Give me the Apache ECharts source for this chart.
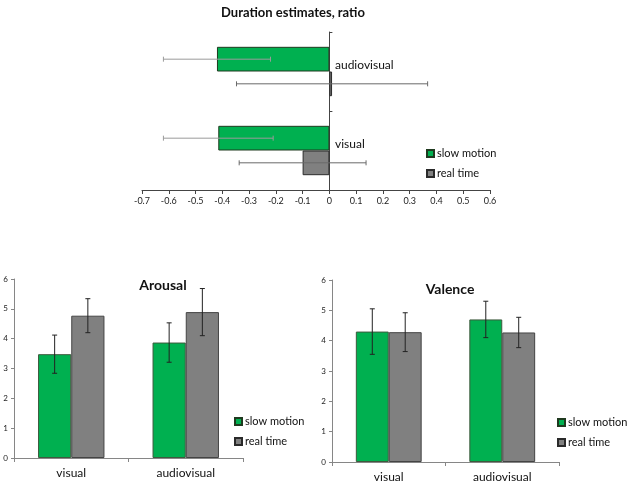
<!DOCTYPE html>
<html><head><meta charset="utf-8">
<script src="https://cdn.jsdelivr.net/npm/echarts@6/dist/echarts.min.js"></script>
<style>html,body{margin:0;padding:0;background:#fff}#c{width:630px;height:483px}</style>
</head><body><div id="c"></div>
<script>
const durCats = ['visual', 'audiovisual'];
const durSlow = [-0.415, -0.42];
const durSlowErr = [0.205, 0.2];
const durReal = [-0.1, 0.01];
const durRealErr = [0.237, 0.357];
const durTicks = [-0.7, 0.6, 0.1];

const emoCats = ['visual', 'audiovisual'];
const arousalSlow = [3.48, 3.87];
const arousalSlowErr = [0.64, 0.66];
const arousalReal = [4.77, 4.89];
const arousalRealErr = [0.57, 0.79];
const valenceSlow = [4.3, 4.7];
const valenceSlowErr = [0.75, 0.6];
const valenceReal = [4.28, 4.27];
const valenceRealErr = [0.64, 0.5];

const GREEN = '#00B050', GRAY = '#808080';
const FONT = 'Lato';

function vErr(frac, color) {
  return function (params, api) {
    const cat = api.value(0), v = api.value(1), e = api.value(2);
    const bw = api.size([1, 0])[0];
    const top = api.coord([cat, v + e]);
    const bot = api.coord([cat, v - e]);
    const x = top[0] + frac * bw;
    const st = { stroke: color, lineWidth: 1 };
    return { type: 'group', children: [
      { type: 'line', shape: { x1: x, y1: top[1], x2: x, y2: bot[1] }, style: st },
      { type: 'line', shape: { x1: x - 2.5, y1: top[1], x2: x + 2.5, y2: top[1] }, style: st },
      { type: 'line', shape: { x1: x - 2.5, y1: bot[1], x2: x + 2.5, y2: bot[1] }, style: st }
    ]};
  };
}
function hErr(frac, color) {
  return function (params, api) {
    const v = api.value(0), cat = api.value(1), e = api.value(2);
    const bh = api.size([0, 1])[1];
    const l = api.coord([v - e, cat]);
    const r = api.coord([v + e, cat]);
    const y = l[1] + frac * bh;
    const st = { stroke: color, lineWidth: 1 };
    return { type: 'group', children: [
      { type: 'line', shape: { x1: l[0], y1: y, x2: r[0], y2: y }, style: st },
      { type: 'line', shape: { x1: l[0], y1: y - 2.5, x2: l[0], y2: y + 2.5 }, style: st },
      { type: 'line', shape: { x1: r[0], y1: y - 2.5, x2: r[0], y2: y + 2.5 }, style: st }
    ]};
  };
}

const chart = echarts.init(document.getElementById('c'), null, { renderer: 'canvas' });
const axisGray = '#868686';
const tickLabel = { fontSize: 8, color: '#222', fontFamily: FONT };
const legendCommon = {
  orient: 'vertical', itemWidth: 7, itemHeight: 7, itemGap: 9, icon: 'rect',
  data: ['slow motion', 'real time'],
  textStyle: { fontSize: 11, color: '#111', fontFamily: FONT, padding: [0, 0, 0, -2] },
  selectedMode: false
};

const option = {
  animation: false,
  textStyle: { fontFamily: FONT },
  title: [
    { text: 'Duration estimates, ratio', left: 288, top: 1, textAlign: 'center',
      textStyle: { fontSize: 13, fontWeight: 'bold', color: '#111', fontFamily: FONT } },
    { text: 'Arousal', left: 158, top: 273, textAlign: 'center',
      textStyle: { fontSize: 14, fontWeight: 'bold', color: '#111', fontFamily: FONT } },
    { text: 'Valence', left: 445, top: 277, textAlign: 'center',
      textStyle: { fontSize: 14, fontWeight: 'bold', color: '#111', fontFamily: FONT } }
  ],
  legend: [
    Object.assign({ left: 421, top: 143 }, legendCommon),
    Object.assign({ left: 229, top: 411 }, legendCommon),
    Object.assign({ left: 552, top: 412 }, legendCommon)
  ],
  grid: [
    { left: 142, right: 140, top: 32, bottom: 293 },
    { left: 14, right: 387, top: 279, bottom: 25 },
    { left: 332, right: 71, top: 280, bottom: 21 }
  ],
  xAxis: [
    { type: 'value', gridIndex: 0, min: durTicks[0], max: durTicks[1], interval: durTicks[2],
      splitLine: { show: false },
      axisLine: { show: true, onZero: false, lineStyle: { color: '#444' } },
      axisTick: { show: true, length: 4, lineStyle: { color: '#444' } },
      axisLabel: { margin: 7, fontSize: 9, color: '#222', fontFamily: FONT,
        formatter: v => String(Math.round(v * 10) / 10) } },
    { type: 'category', gridIndex: 1, data: emoCats,
      axisLine: { lineStyle: { color: axisGray } },
      axisTick: { show: true, length: 4, lineStyle: { color: axisGray } },
      axisLabel: { fontSize: 12, color: '#111', fontFamily: FONT, margin: 9 } },
    { type: 'category', gridIndex: 2, data: emoCats,
      axisLine: { lineStyle: { color: axisGray } },
      axisTick: { show: true, length: 4, lineStyle: { color: axisGray } },
      axisLabel: { fontSize: 12, color: '#111', fontFamily: FONT, margin: 9 } }
  ],
  yAxis: [
    { type: 'category', gridIndex: 0, data: durCats,
      axisLine: { show: true, onZero: true, lineStyle: { color: '#444' } },
      axisTick: { show: true, inside: true, length: 3, lineStyle: { color: '#444' } },
      axisLabel: { inside: true, margin: 193, fontSize: 12, color: '#111', fontFamily: FONT,
        verticalAlign: 'bottom' } },
    { type: 'value', gridIndex: 1, min: 0, max: 6, interval: 1, splitLine: { show: false },
      axisLine: { show: true, lineStyle: { color: axisGray } },
      axisTick: { show: true, length: 3, lineStyle: { color: axisGray } },
      axisLabel: Object.assign({ margin: 6 }, tickLabel) },
    { type: 'value', gridIndex: 2, min: 0, max: 6, interval: 1, splitLine: { show: false },
      axisLine: { show: true, lineStyle: { color: axisGray } },
      axisTick: { show: true, length: 3, lineStyle: { color: axisGray } },
      axisLabel: Object.assign({ margin: 6 }, tickLabel) }
  ],
  series: [
    { name: 'slow motion', type: 'bar', xAxisIndex: 0, yAxisIndex: 0, data: durSlow,
      barCategoryGap: '37.5%', barGap: '0%',
      itemStyle: { color: GREEN, borderColor: '#1f3a1f', borderWidth: 1 } },
    { name: 'real time', type: 'bar', xAxisIndex: 0, yAxisIndex: 0, data: durReal,
      barCategoryGap: '37.5%', barGap: '0%',
      itemStyle: { color: GRAY, borderColor: '#2a2a2a', borderWidth: 1 } },
    { name: 'errDurSlow', type: 'custom', xAxisIndex: 0, yAxisIndex: 0,
      renderItem: hErr(-0.156, '#9a9a9a'), encode: { x: 0, y: 1 },
      data: durSlow.map((v, i) => [v, i, durSlowErr[i]]), z: 5 },
    { name: 'errDurReal', type: 'custom', xAxisIndex: 0, yAxisIndex: 0,
      renderItem: hErr(0.156, '#6a6a6a'), encode: { x: 0, y: 1 },
      data: durReal.map((v, i) => [v, i, durRealErr[i]]), z: 5 },

    { name: 'slow motion', type: 'bar', xAxisIndex: 1, yAxisIndex: 1, data: arousalSlow,
      barCategoryGap: '42%', barGap: '0%',
      itemStyle: { color: GREEN, borderColor: '#3d5a3d', borderWidth: 1 } },
    { name: 'real time', type: 'bar', xAxisIndex: 1, yAxisIndex: 1, data: arousalReal,
      barCategoryGap: '42%', barGap: '0%',
      itemStyle: { color: GRAY, borderColor: '#444', borderWidth: 1 } },
    { name: 'errAroSlow', type: 'custom', xAxisIndex: 1, yAxisIndex: 1,
      renderItem: vErr(-0.145, '#222'), encode: { x: 0, y: 1 },
      data: arousalSlow.map((v, i) => [i, v, arousalSlowErr[i]]), z: 5 },
    { name: 'errAroReal', type: 'custom', xAxisIndex: 1, yAxisIndex: 1,
      renderItem: vErr(0.145, '#222'), encode: { x: 0, y: 1 },
      data: arousalReal.map((v, i) => [i, v, arousalRealErr[i]]), z: 5 },

    { name: 'slow motion', type: 'bar', xAxisIndex: 2, yAxisIndex: 2, data: valenceSlow,
      barCategoryGap: '42%', barGap: '0%',
      itemStyle: { color: GREEN, borderColor: '#3d5a3d', borderWidth: 1 } },
    { name: 'real time', type: 'bar', xAxisIndex: 2, yAxisIndex: 2, data: valenceReal,
      barCategoryGap: '42%', barGap: '0%',
      itemStyle: { color: GRAY, borderColor: '#444', borderWidth: 1 } },
    { name: 'errValSlow', type: 'custom', xAxisIndex: 2, yAxisIndex: 2,
      renderItem: vErr(-0.145, '#222'), encode: { x: 0, y: 1 },
      data: valenceSlow.map((v, i) => [i, v, valenceSlowErr[i]]), z: 5 },
    { name: 'errValReal', type: 'custom', xAxisIndex: 2, yAxisIndex: 2,
      renderItem: vErr(0.145, '#222'), encode: { x: 0, y: 1 },
      data: valenceReal.map((v, i) => [i, v, valenceRealErr[i]]), z: 5 }
  ]
};
chart.setOption(option);
</script></body></html>
